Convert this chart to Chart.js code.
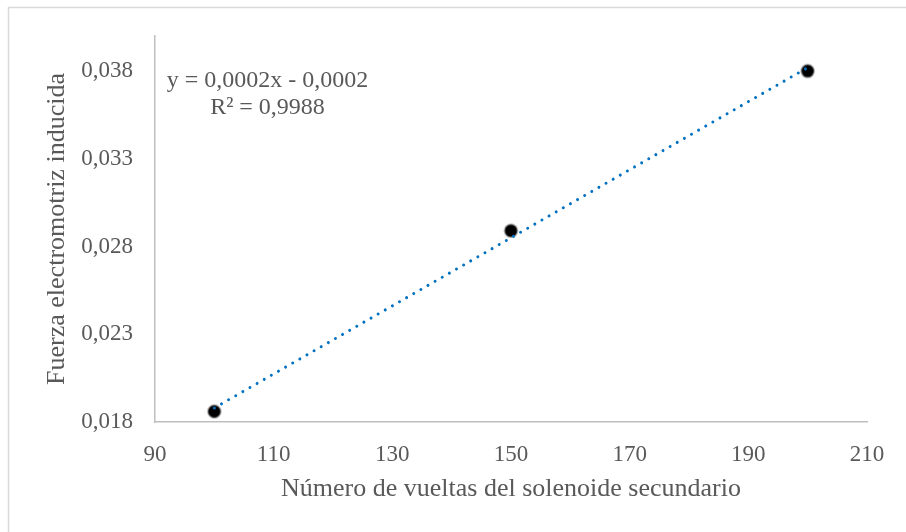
<!DOCTYPE html>
<html>
<head>
<meta charset="utf-8">
<script src="https://cdn.jsdelivr.net/npm/chart.js@4/dist/chart.umd.min.js"></script>
<style>
  html, body { margin: 0; padding: 0; background: #ffffff; }
  #wrap { position: relative; width: 906px; height: 532px; }
</style>
</head>
<body>
<div id="wrap"><canvas id="c" width="906" height="532"></canvas></div>
<script>
// Número de vueltas del solenoide secundario vs. fem inducida
const vueltas = [100, 150, 200];
const fem = [0.0186, 0.0289, 0.0380];

const xTicks = [90, 110, 130, 150, 170, 190, 210];
const yTicks = [0.018, 0.023, 0.028, 0.033, 0.038];
const yTickLabels = ['0,018', '0,023', '0,028', '0,033', '0,038'];

const ecuacion = 'y = 0,0002x - 0,0002';
const r2Texto = 'R² = 0,9988';

const tituloX = 'Número de vueltas del solenoide secundario';
const tituloY = 'Fuerza electromotriz inducida';

// Least-squares line through the measured points
function ajusteLineal(xs, ys) {
  const n = xs.length;
  const mx = xs.reduce((a, b) => a + b, 0) / n;
  const my = ys.reduce((a, b) => a + b, 0) / n;
  let sxy = 0, sxx = 0;
  for (let i = 0; i < n; i++) {
    sxy += (xs[i] - mx) * (ys[i] - my);
    sxx += (xs[i] - mx) * (xs[i] - mx);
  }
  const m = sxy / sxx;
  return { m, b: my - m * mx };
}
const fit = ajusteLineal(vueltas, fem);
const xMin = Math.min(...vueltas), xMax = Math.max(...vueltas);
const tendencia = [
  { x: xMin, y: fit.m * xMin + fit.b },
  { x: xMax, y: fit.m * xMax + fit.b }
];

const SERIF = "'Liberation Serif', 'Times New Roman', serif";
const GRIS = '#595959';

const marco = {
  id: 'marco',
  beforeDraw(chart) {
    const ctx = chart.ctx;
    ctx.save();
    ctx.fillStyle = '#ffffff';
    ctx.fillRect(0, 0, chart.width, chart.height);
    ctx.strokeStyle = '#d9d9d9';
    ctx.lineWidth = 1.5;
    ctx.beginPath();
    ctx.moveTo(8.5, chart.height);
    ctx.lineTo(8.5, 7.5);
    ctx.lineTo(chart.width, 7.5);
    ctx.stroke();
    ctx.restore();
  }
};

const etiquetaAjuste = {
  id: 'etiquetaAjuste',
  afterDraw(chart) {
    const ctx = chart.ctx;
    const a = chart.chartArea;
    const cx = a.left + 112.5;
    ctx.save();
    ctx.fillStyle = GRIS;
    ctx.font = '24px ' + SERIF;
    ctx.textAlign = 'center';
    ctx.textBaseline = 'alphabetic';
    ctx.fillText(ecuacion, cx, a.top + 51);
    ctx.fillText(r2Texto, cx, a.top + 78);
    ctx.restore();
  }
};

new Chart(document.getElementById('c'), {
  type: 'scatter',
  data: {
    datasets: [
      {
        label: 'Tendencia',
        data: tendencia,
        showLine: true,
        borderColor: '#0070c0',
        borderWidth: 3,
        borderDash: [0.01, 8.2],
        borderCapStyle: 'round',
        pointRadius: 0,
        fill: false,
        order: 0
      },
      {
        label: 'Datos',
        data: vueltas.map((v, i) => ({ x: v, y: fem[i] })),
        pointRadius: 6.5,
        pointBackgroundColor: '#000000',
        pointBorderColor: 'rgba(140,140,140,0.5)',
        pointBorderWidth: 2,
        showLine: false,
        order: 1
      }
    ]
  },
  options: {
    responsive: false,
    animation: false,
    devicePixelRatio: 1,
    layout: { padding: { left: 0, top: 36, right: 39, bottom: 0 } },
    plugins: {
      legend: { display: false },
      tooltip: { enabled: false }
    },
    scales: {
      x: {
        type: 'linear',
        min: 90,
        max: 210,
        afterBuildTicks(scale) { scale.ticks = xTicks.map(v => ({ value: v })); },
        afterFit(scale) { scale.height = 532 - 422; },
        grid: { display: false, drawTicks: false },
        border: { display: true, color: '#bfbfbf', width: 1.5 },
        ticks: {
          padding: 19,
          color: GRIS,
          font: { family: SERIF, size: 23 },
          maxRotation: 0,
          callback: v => String(v)
        },
        title: {
          display: true,
          text: tituloX,
          color: GRIS,
          font: { family: SERIF, size: 26 },
          padding: { top: 0, bottom: 27 }
        }
      },
      y: {
        type: 'linear',
        min: 0.018,
        max: 0.040,
        afterBuildTicks(scale) { scale.ticks = yTicks.map(v => ({ value: v })); },
        afterFit(scale) { scale.width = 155; },
        grid: { display: false, drawTicks: false },
        border: { display: true, color: '#bfbfbf', width: 1.5 },
        ticks: {
          padding: 22,
          color: GRIS,
          font: { family: SERIF, size: 23 },
          callback: v => {
            const i = yTicks.findIndex(t => Math.abs(t - v) < 1e-9);
            return i >= 0 ? yTickLabels[i] : '';
          }
        },
        title: {
          display: true,
          text: tituloY,
          color: GRIS,
          font: { family: SERIF, size: 26 },
          padding: { top: 42, bottom: 0 }
        }
      }
    }
  },
  plugins: [marco, etiquetaAjuste]
});
</script>
</body>
</html>
